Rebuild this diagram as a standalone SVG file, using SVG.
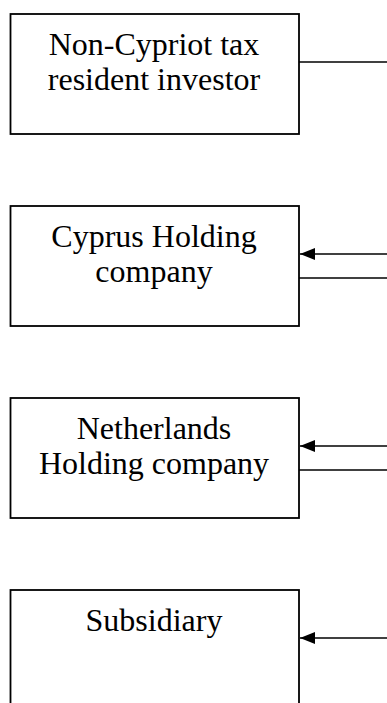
<svg xmlns="http://www.w3.org/2000/svg" width="387" height="703" viewBox="0 0 387 703">
  <style>
    .box { fill: #ffffff; stroke: #000000; stroke-width: 1.8; }
    .lbl { font-family: "Liberation Serif", "Times New Roman", serif; font-size: 32px; fill: #000000; text-anchor: middle; }
    .conn { stroke: #000000; stroke-width: 1.6; fill: none; }
  </style>
  <defs>
    <marker id="arrow" markerUnits="userSpaceOnUse" markerWidth="16" markerHeight="13" refX="15" refY="6" orient="auto">
      <path d="M0,0 L15,6 L0,12 Z" fill="#000000"/>
    </marker>
  </defs>
  <rect width="387" height="703" fill="#ffffff"/>

  <g id="investor">
    <rect class="box" x="10.5" y="14" width="288.5" height="120"/>
    <text class="lbl" x="154" y="55">Non-Cypriot tax</text>
    <text class="lbl" x="154" y="90">resident investor</text>
  </g>

  <g id="cyprus-holding">
    <rect class="box" x="10.5" y="206" width="288.5" height="120"/>
    <text class="lbl" x="154" y="247">Cyprus Holding</text>
    <text class="lbl" x="154" y="282">company</text>
  </g>

  <g id="netherlands-holding">
    <rect class="box" x="10.5" y="398" width="288.5" height="120"/>
    <text class="lbl" x="154" y="439">Netherlands</text>
    <text class="lbl" x="154" y="474">Holding company</text>
  </g>

  <g id="subsidiary">
    <rect class="box" x="10.5" y="590" width="288.5" height="120"/>
    <text class="lbl" x="154" y="631">Subsidiary</text>
  </g>

  <g id="connectors">
    <line class="conn" x1="299" y1="62" x2="387" y2="62"/>
    <line class="conn" x1="387" y1="254" x2="300" y2="254" marker-end="url(#arrow)"/>
    <line class="conn" x1="299" y1="278" x2="387" y2="278"/>
    <line class="conn" x1="387" y1="446" x2="300" y2="446" marker-end="url(#arrow)"/>
    <line class="conn" x1="299" y1="470" x2="387" y2="470"/>
    <line class="conn" x1="387" y1="638" x2="300" y2="638" marker-end="url(#arrow)"/>
  </g>
</svg>
